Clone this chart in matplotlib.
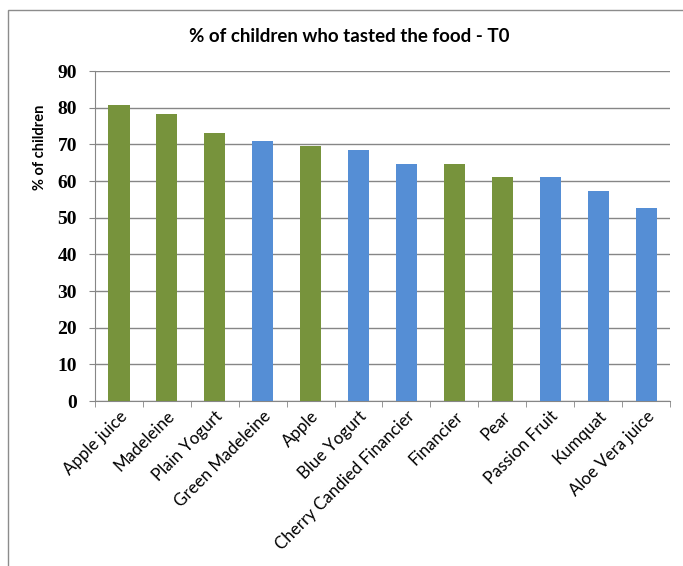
import matplotlib
matplotlib.use("Agg")
import matplotlib.pyplot as plt
import numpy as np
from matplotlib.patches import Rectangle

foods = ["Apple juice", "Madeleine", "Plain Yogurt", "Green Madeleine", "Apple",
         "Blue Yogurt", "Cherry Candied Financier", "Financier", "Pear",
         "Passion Fruit", "Kumquat", "Aloe Vera juice"]
pct_tasted = [80.7, 78.4, 73.2, 70.8, 69.6, 68.5, 64.7, 64.7, 61.1, 61.1, 57.4, 52.6]
groups = ["g", "g", "g", "b", "g", "b", "b", "g", "g", "b", "b", "b"]

GREEN = "#77933C"
BLUE = "#558ED5"
GRID = "#868686"

fig = plt.figure(figsize=(6.83, 5.66), dpi=100)
ax = fig.add_axes([95 / 683, 1 - 401 / 566, 575 / 683, 330 / 566])

# outer chart border
fig.patches.append(Rectangle((8 / 683, -0.05), 1.2, 1 - 10 / 566 + 0.05,
                             transform=fig.transFigure, fill=False,
                             edgecolor="#8c8c8c", linewidth=1.0))

x = np.arange(len(foods))
colors = [GREEN if g == "g" else BLUE for g in groups]
ax.bar(x, pct_tasted, width=0.44, color=colors, zorder=3)

ax.set_xlim(-0.5, len(foods) - 0.5)
ax.set_ylim(0, 90)
ax.set_yticks(range(0, 91, 10))
ax.yaxis.grid(True, color=GRID, linewidth=1.0, zorder=0)
ax.set_axisbelow(True)

for s in ["top", "right"]:
    ax.spines[s].set_visible(False)
ax.spines["left"].set_color(GRID)
ax.spines["bottom"].set_color(GRID)

ax.set_xticks(x)
ax.set_xticklabels(foods, rotation=45, ha="right", rotation_mode="anchor",
                   fontsize=12.2, family="Lato")
ax.set_xticks(np.arange(-0.5, len(foods), 1), minor=True)
ax.tick_params(axis="x", which="major", length=0, pad=5)
ax.tick_params(axis="x", which="minor", length=4, color=GRID)
ax.tick_params(axis="y", length=4, color=GRID, pad=9)
for lbl in ax.get_yticklabels():
    lbl.set_family("Liberation Serif")
    lbl.set_fontsize(14)
    lbl.set_fontweight("bold")

ax.set_ylabel("% of children", fontsize=10.5, fontweight="bold", family="Lato")
ax.yaxis.set_label_coords((47 - 95) / 575, (401 - 147) / 330)
fig.text(349 / 683, 1 - 37 / 566, "% of children who tasted the food - T0",
         ha="center", va="center", fontsize=13.5, fontweight="bold", family="Lato")

fig.savefig("out.png", dpi=100)
